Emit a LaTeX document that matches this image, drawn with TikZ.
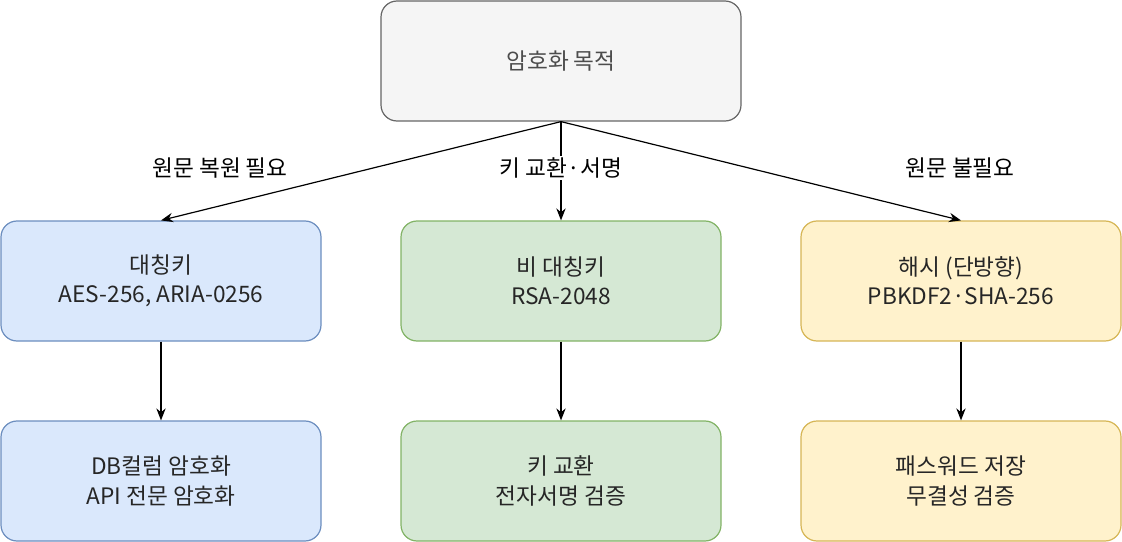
\documentclass[tikz,border=0pt]{standalone}
\usepackage{fontspec}
\setmainfont{Noto Sans CJK KR}
\usetikzlibrary{arrows.meta}
\begin{document}
\begin{tikzpicture}[x=0.75pt,y=-0.75pt,
 box/.style={rounded corners=12pt,line width=0.9pt,minimum width=240pt,minimum height=90pt,align=center,font=\fontsize{17pt}{22pt}\selectfont,text=black!85},
 gray/.style={box,fill={rgb,255:red,245;green,245;blue,245},draw={rgb,255:red,102;green,102;blue,102},minimum width=270pt,text=black!70},
 blue/.style={box,fill={rgb,255:red,218;green,232;blue,252},draw={rgb,255:red,108;green,142;blue,191}},
 green/.style={box,fill={rgb,255:red,213;green,232;blue,212},draw={rgb,255:red,130;green,179;blue,102}},
 yellow/.style={box,fill={rgb,255:red,255;green,242;blue,204},draw={rgb,255:red,214;green,182;blue,86}},
 arr/.style={-{Stealth[length=9pt,width=7pt]},line width=0.9pt},
 lbl/.style={font=\fontsize{17pt}{20pt}\selectfont}]
\useasboundingbox (0,0) rectangle (1122,542);
\node[gray] (top) at (561,61) {암호화 목적};
\node[blue] (a1) at (161,281) {대칭키\\AES-256, ARIA-0256};
\node[green] (b1) at (561,281) {비 대칭키\\RSA-2048};
\node[yellow] (c1) at (961,281) {해시 (단방향)\\PBKDF2·SHA-256};
\node[blue] (a2) at (161,481) {DB컬럼 암호화\\API 전문 암호화};
\node[green] (b2) at (561,481) {키 교환\\전자서명 검증};
\node[yellow] (c2) at (961,481) {패스워드 저장\\무결성 검증};
\draw[arr] (top.south) -- (a1.north);
\draw[arr] (top.south) -- (b1.north);
\draw[arr] (top.south) -- (c1.north);
\draw[arr] (a1) -- (a2);
\draw[arr] (b1) -- (b2);
\draw[arr] (c1) -- (c2);
\node[lbl,fill=white,inner sep=1pt] (l1) at (220,168) {원문 복원 필요};
\node[lbl,fill=white,inner sep=1pt] (l2) at (561,168) {키 교환·서명};
\node[lbl,fill=white,inner sep=1pt] (l3) at (960,168) {원문 불필요};
\end{tikzpicture}
\end{document}
